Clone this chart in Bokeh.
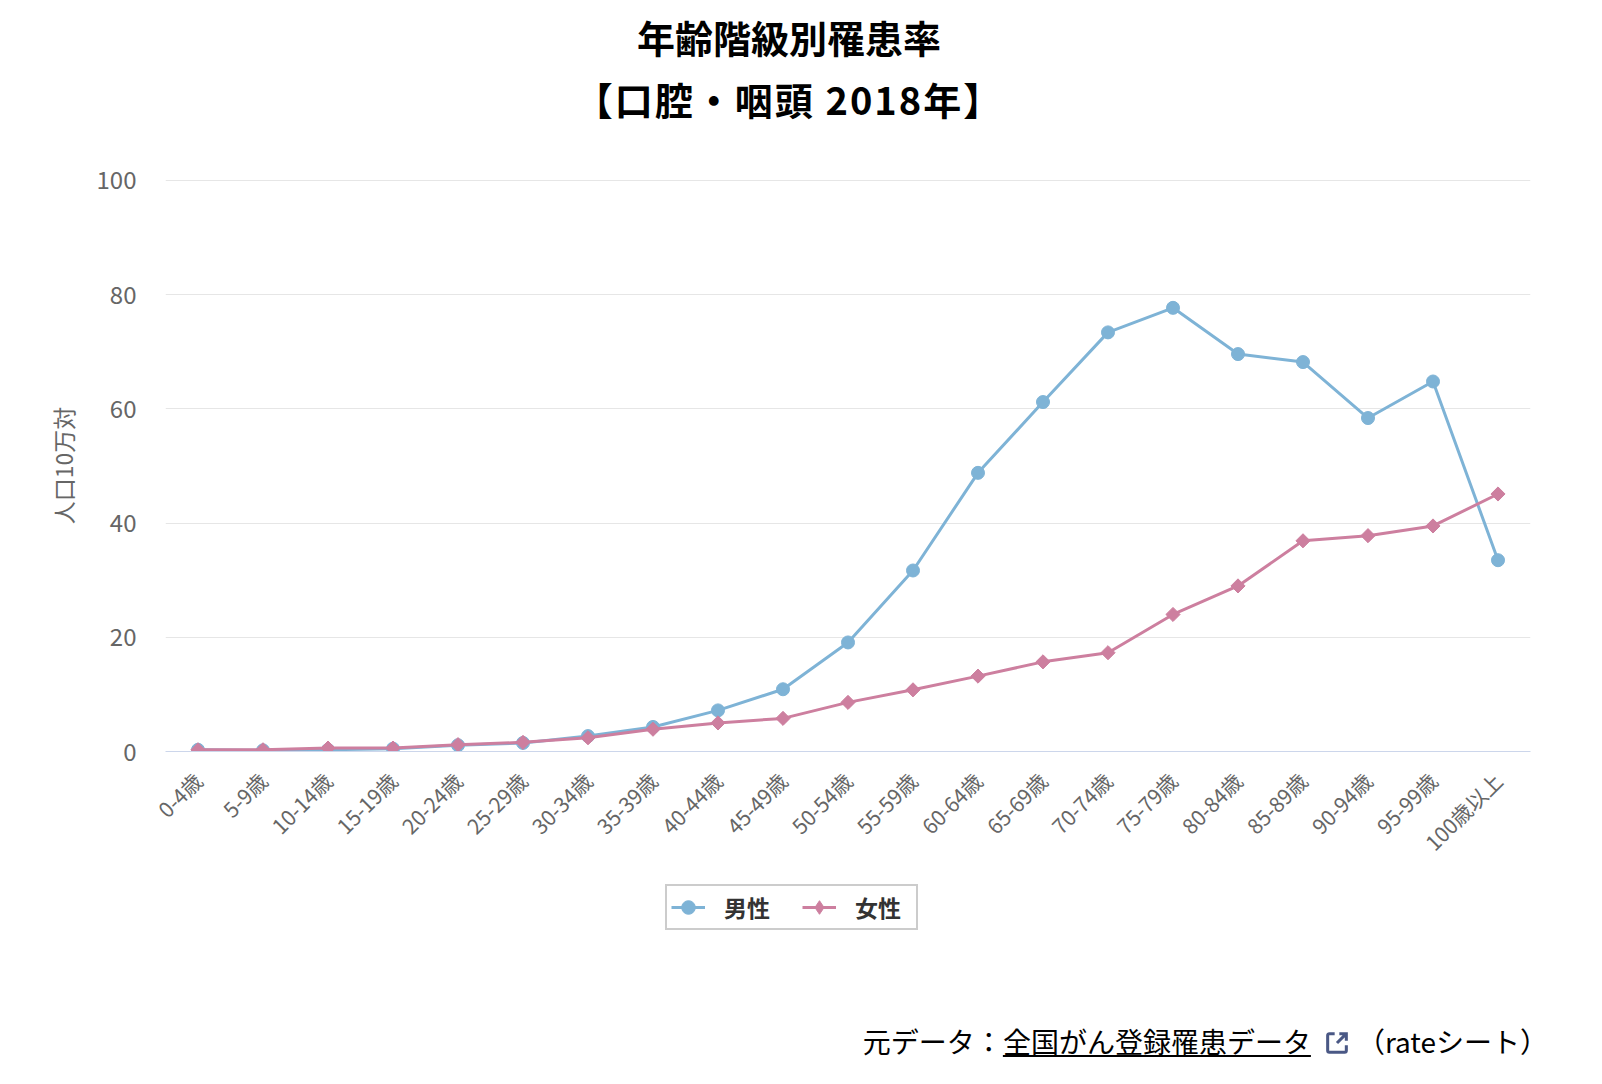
import math
from bokeh.plotting import figure
from bokeh.models import Range1d, FixedTicker, Legend, LegendItem, Div
from bokeh.layouts import column
from bokeh.embed import file_html
from bokeh.resources import INLINE

categories = ["0-4歳", "5-9歳", "10-14歳", "15-19歳", "20-24歳", "25-29歳", "30-34歳",
              "35-39歳", "40-44歳", "45-49歳", "50-54歳", "55-59歳", "60-64歳", "65-69歳",
              "70-74歳", "75-79歳", "80-84歳", "85-89歳", "90-94歳", "95-99歳", "100歳以上"]
male = [0.3, 0.2, 0.3, 0.5, 1.1, 1.5, 2.7, 4.3, 7.2, 10.9, 19.1, 31.7, 48.8, 61.2,
        73.4, 77.7, 69.6, 68.2, 58.4, 64.8, 33.5]
female = [0.3, 0.3, 0.6, 0.6, 1.2, 1.6, 2.4, 3.9, 5.0, 5.8, 8.6, 10.8, 13.2, 15.7,
          17.3, 24.0, 29.0, 36.9, 37.8, 39.5, 45.1]
y_ticks = [0, 20, 40, 60, 80, 100]
series_names = ["男性", "女性"]
title_line1 = "年齢階級別罹患率"
title_line2 = "【口腔・咽頭 2018年】"

FONT = "Noto Sans CJK JP"
MALE_C = "#7eb3d6"
FEMALE_C = "#cd7f9f"

title_html = (
    '<div style="font-family:\'Noto Sans CJK JP\',sans-serif;font-size:38px;font-weight:bold;'
    'line-height:62px;color:#000;text-align:center;width:1578px;padding-top:6px;white-space:nowrap;">'
    + title_line1 + '<br><span style="letter-spacing:2px;">' + title_line2 + '</span></div>'
)
title_div = Div(text=title_html, width=1600, height=132, margin=0)

p = figure(x_range=categories, y_range=Range1d(0, 100.175),
           frame_width=1365, frame_height=572,
           min_border_left=165, min_border_right=70, min_border_top=47, min_border_bottom=115,
           output_backend="svg", toolbar_location=None,
           background_fill_color="white", border_fill_color="white", outline_line_color=None)
p.title.visible = False

# axes
p.xaxis.axis_line_color = "#ccd6eb"
p.xaxis.axis_line_width = 1
p.xaxis.major_tick_line_color = None
p.xaxis.minor_tick_line_color = None
p.xaxis.major_label_orientation = math.pi / 4
p.xaxis.major_label_text_font = FONT
p.xaxis.major_label_text_font_size = "21px"
p.xaxis.major_label_text_color = "#666666"
p.xaxis.major_label_standoff = 19
p.xgrid.visible = False

p.yaxis.ticker = FixedTicker(ticks=y_ticks)
p.yaxis.axis_line_color = None
p.yaxis.major_tick_line_color = None
p.yaxis.minor_tick_line_color = None
p.yaxis.major_label_text_font = FONT
p.yaxis.major_label_text_font_size = "24px"
p.yaxis.major_label_text_color = "#666666"
p.yaxis.major_label_standoff = 23
p.yaxis.axis_label = "人口10万対"
p.yaxis.axis_label_text_font = FONT
p.yaxis.axis_label_text_font_size = "23px"
p.yaxis.axis_label_text_font_style = "normal"
p.yaxis.axis_label_text_color = "#666666"
p.yaxis.axis_label_standoff = 14
p.ygrid.ticker = FixedTicker(ticks=y_ticks)
p.ygrid.grid_line_color = "#e6e6e6"
p.ygrid.grid_line_width = 1

lm = p.line(categories, male, line_color=MALE_C, line_width=3)
sm = p.scatter(categories, male, marker="circle", size=13, fill_color=MALE_C, line_color=MALE_C)
lf = p.line(categories, female, line_color=FEMALE_C, line_width=3)
sf = p.scatter(categories, female, marker="square", angle=math.pi / 4, size=10,
               fill_color=FEMALE_C, line_color=FEMALE_C)

# legend strip (separate figure so that the legend is never clipped);
# its renderers hold the same series but lie outside the strip's visible range
LH = 94
q = figure(width=1600, height=LH, x_range=Range1d(0, 1600), y_range=Range1d(0, LH),
           min_border=0, output_backend="svg", toolbar_location=None,
           x_axis_location=None, y_axis_location=None,
           background_fill_color="white", border_fill_color="white", outline_line_color=None)
q.title.visible = False
q.grid.visible = False
hidden_x = [-1000 - i for i in range(len(male))]
qlm = q.line(hidden_x, male, line_color=MALE_C, line_width=3)
qsm = q.scatter(hidden_x, male, marker="circle", size=13, fill_color=MALE_C, line_color=MALE_C)
qlf = q.line(hidden_x, female, line_color=FEMALE_C, line_width=3)
qsf = q.scatter(hidden_x, female, marker="diamond", size=15,
                fill_color=FEMALE_C, line_color=FEMALE_C)
legend = Legend(items=[LegendItem(label=series_names[0], renderers=[qlm, qsm]),
                       LegendItem(label=series_names[1], renderers=[qlf, qsf])],
                location=(500, 33), orientation="horizontal",
                label_text_font=FONT, label_text_font_size="23px", label_text_font_style="bold",
                label_text_color="#333333", label_text_line_height=0.8,
                glyph_width=34, glyph_height=34, label_height=20, label_width=57,
                label_standoff=19, spacing=21, padding=4, margin=0,
                border_line_color="#999999", border_line_width=2,
                background_fill_color="white", background_fill_alpha=1.0)
q.add_layout(legend, "center")

footer_html = (
    '<div style="font-family:\'Noto Sans CJK JP\',sans-serif;font-size:28px;line-height:30px;'
    'color:#000;text-align:right;width:1548px;padding-top:63px;white-space:nowrap;">'
    '元データ：<span style="text-decoration:underline;">全国がん登録罹患データ</span>'
    '<svg width="28" height="28" viewBox="0 0 24 24" style="vertical-align:-4px;margin:0 6px 0 12px;">'
    '<path d="M10 4H5.5A1.5 1.5 0 0 0 4 5.5v13A1.5 1.5 0 0 0 5.5 20h13a1.5 1.5 0 0 0 1.5-1.5V14" '
    'fill="none" stroke="#4a5885" stroke-width="2.6"/>'
    '<path d="M14 4h6v6M20 4l-8 8" fill="none" stroke="#4a5885" stroke-width="2.6"/></svg>'
    '（rateシート）</div>'
)
footer = Div(text=footer_html, width=1600, height=108, margin=0)

layout = column(title_div, p, q, footer, spacing=0)
open("out.html", "w").write(file_html(layout, INLINE))
